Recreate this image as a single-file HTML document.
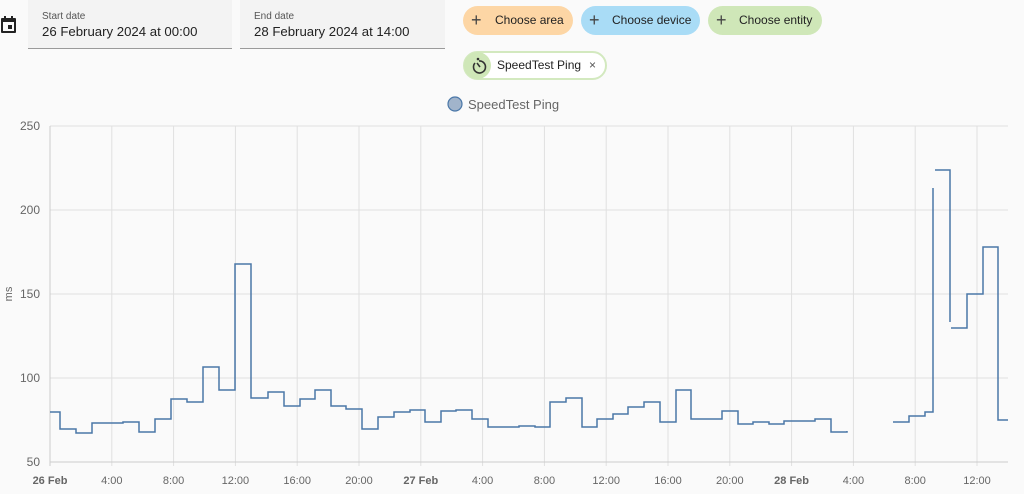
<!DOCTYPE html>
<html><head><meta charset="utf-8"><style>
body{margin:0;width:1024px;height:494px;background:#fafafa;font-family:"Liberation Sans",sans-serif;position:relative;overflow:hidden}
.f{position:absolute;top:0;height:48px;background:#f3f3f3;border-bottom:1px solid #9a9a9a}
.f .l{position:absolute;left:14px;top:11px;font-size:10px;color:#555}
.f .v{position:absolute;left:14px;top:24px;font-size:13.2px;color:#222}
.chip{position:absolute;height:29px;border-radius:15px;font-size:12px;color:#222;line-height:29px;box-sizing:border-box}
.chip .p{position:absolute;left:8px;top:0;font-size:18px;color:#444}
</style></head><body>
<svg style="position:absolute;left:0;top:15px" width="18" height="20" viewBox="0 0 18 20"><rect x="1" y="3" width="15" height="15" rx="1" fill="#222"/><rect x="3" y="7" width="11" height="9" fill="#fafafa"/><rect x="8" y="10" width="4" height="4" fill="#222"/><rect x="4" y="1" width="2" height="4" fill="#222"/><rect x="11" y="1" width="2" height="4" fill="#222"/></svg>
<div class="f" style="left:28px;width:204px"><div class="l">Start date</div><div class="v">26 February 2024 at 00:00</div></div>
<div class="f" style="left:240px;width:205px"><div class="l">End date</div><div class="v">28 February 2024 at 14:00</div></div>
<div class="chip" style="left:463px;top:6px;width:110px;background:#fdd6a5"><span class="p">+</span><span style="position:absolute;left:32px">Choose area</span></div>
<div class="chip" style="left:581px;top:6px;width:119px;background:#a9dcf6"><span class="p">+</span><span style="position:absolute;left:31px">Choose device</span></div>
<div class="chip" style="left:708px;top:6px;width:114px;background:#cfe7b8"><span class="p">+</span><span style="position:absolute;left:31px">Choose entity</span></div>
<div class="chip" style="left:463px;top:51px;width:144px;background:#fff;border:2px solid #d3e9bf">
<div style="position:absolute;left:-1px;top:-1px;width:27px;height:27px;border-radius:14px;background:#cfe7b8"></div>
<svg style="position:absolute;left:4px;top:3px" width="20" height="20" viewBox="0 0 20 20"><path d="M6 7 A6 6 0 1 0 10 5" fill="none" stroke="#333" stroke-width="1.6"/><path d="M8 7 L11 11" stroke="#333" stroke-width="1.6"/><circle cx="9" cy="3" r="1.3" fill="#333"/></svg>
<span style="position:absolute;left:32px;line-height:25px">SpeedTest Ping</span><span style="position:absolute;left:124px;line-height:25px;color:#555">×</span></div>
<svg style="position:absolute;left:0;top:0" width="1024" height="494">
<circle cx="455" cy="104" r="7" fill="#a1b4cb" stroke="#4a77a8" stroke-width="1.2"/>
<text x="468" y="109" font-size="13" fill="#666">SpeedTest Ping</text>
<g stroke="#e0e0e0" stroke-width="1">
<line x1="50" x2="1008" y1="126" y2="126"/><line x1="50" x2="1008" y1="210" y2="210"/><line x1="50" x2="1008" y1="294" y2="294"/><line x1="50" x2="1008" y1="378" y2="378"/>
<line x1="111.8" x2="111.8" y1="126" y2="466"/><line x1="173.6" x2="173.6" y1="126" y2="466"/><line x1="235.4" x2="235.4" y1="126" y2="466"/><line x1="297.2" x2="297.2" y1="126" y2="466"/><line x1="359" x2="359" y1="126" y2="466"/><line x1="420.8" x2="420.8" y1="126" y2="466"/><line x1="482.6" x2="482.6" y1="126" y2="466"/><line x1="544.4" x2="544.4" y1="126" y2="466"/><line x1="606.2" x2="606.2" y1="126" y2="466"/><line x1="668" x2="668" y1="126" y2="466"/><line x1="729.8" x2="729.8" y1="126" y2="466"/><line x1="791.6" x2="791.6" y1="126" y2="466"/><line x1="853.4" x2="853.4" y1="126" y2="466"/><line x1="915.2" x2="915.2" y1="126" y2="466"/><line x1="977" x2="977" y1="126" y2="466"/>
</g>
<line x1="50" x2="1008" y1="462" y2="462" stroke="#ccc"/><line x1="50" x2="50" y1="126" y2="466" stroke="#ccc"/>
<g font-size="12" fill="#666" text-anchor="end"><text x="40" y="130">250</text><text x="40" y="214">200</text><text x="40" y="298">150</text><text x="40" y="382">100</text><text x="40" y="466">50</text></g>
<text transform="translate(12,294) rotate(-90)" font-size="11" fill="#666" text-anchor="middle">ms</text>
<g font-size="11" fill="#666" text-anchor="middle">
<text x="50" y="484" font-weight="bold">26 Feb</text><text x="111.8" y="484">4:00</text><text x="173.6" y="484">8:00</text><text x="235.4" y="484">12:00</text><text x="297.2" y="484">16:00</text><text x="359" y="484">20:00</text><text x="420.8" y="484" font-weight="bold">27 Feb</text><text x="482.6" y="484">4:00</text><text x="544.4" y="484">8:00</text><text x="606.2" y="484">12:00</text><text x="668" y="484">16:00</text><text x="729.8" y="484">20:00</text><text x="791.6" y="484" font-weight="bold">28 Feb</text><text x="853.4" y="484">4:00</text><text x="915.2" y="484">8:00</text><text x="977" y="484">12:00</text></g>
<g fill="none" stroke="#4a77a8" stroke-width="1.5">
<path d="M50 412H60V429H76V433H92V423H123V422H139V432H155V419H171V399H187V402H203V367H219V390H235V264H251V398H268V392H284V406H300V399H315V390H331V406H346V409H362V429H378V417H394V412H410V410H425V422H441V411H456V410H472V419H488V427H519V426H535V427H550V402H566V398H582V427H597V419H613V414H628V407H644V402H660V422H676V390H691V419H722V411H738V424H753V422H769V424H784V421H815V419H831V432H847V431"/>
<path d="M893 422H909V416H925V412H933V188"/>
<path d="M935 170H950V322"/>
<path d="M951 328H967V294H983V247H998V420H1008"/>
</g>
</svg>
</body></html>
